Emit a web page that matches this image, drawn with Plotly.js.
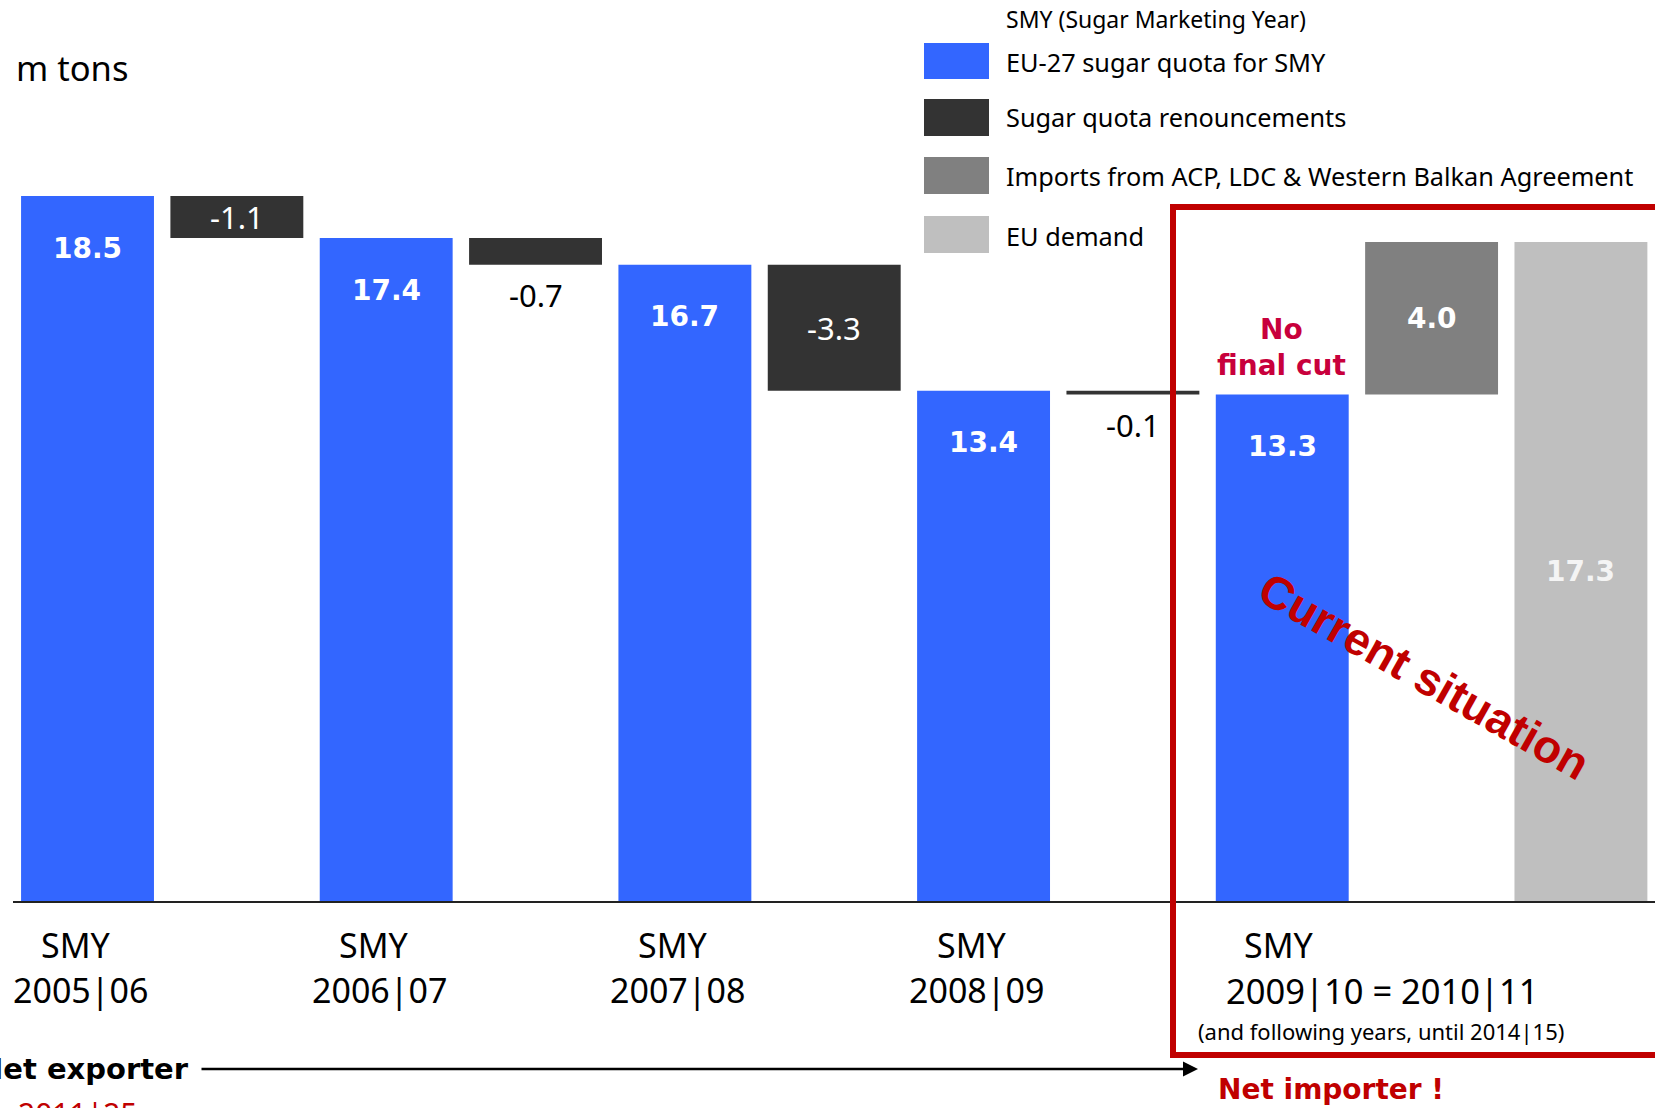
<!DOCTYPE html>
<html>
<head>
<meta charset="utf-8">
<script src="https://cdn.plot.ly/plotly-3.0.1.min.js"></script>
<style>html,body{margin:0;padding:0;background:#fff;}#chart{width:1655px;height:1108px;}</style>
</head>
<body>
<div id="chart"></div>
<script>
// ---- data ----
const periods = ['2005|06', '2006|07', '2007|08', '2008|09'];
const currentPeriod = '2009|10 = 2010|11';
const currentNote = '(and following years, until 2014|15)';
const quota = [18.5, 17.4, 16.7, 13.4, 13.3];          // EU-27 sugar quota for SMY
const renouncements = [-1.1, -0.7, -3.3, -0.1];        // Sugar quota renouncements
const imports = [4.0];                                  // Imports from ACP, LDC & Western Balkan
const demand = [17.3];                                  // EU demand
const legendNames = ['EU-27 sugar quota for SMY', 'Sugar quota renouncements',
  'Imports from ACP, LDC & Western Balkan Agreement', 'EU demand'];

// ---- styling ----
const W = 1655, H = 1108;
const C_BLUE = '#3366FF', C_DARK = '#333333', C_GRAY = '#808080', C_LIGHT = '#BFBFBF';
const RED = '#C00000', CRIMSON = '#C8003C';
const FONT = 'Noto Sans, DejaVu Sans, sans-serif';
const BFONT = 'DejaVu Sans, Verdana, sans-serif';
const AFONT = 'Liberation Sans, Arial, sans-serif';
const px = x => x / W;
const py = y => 1 - y / H;

const quotaX = quota.map((_, i) => 2 * i);
const renX = renouncements.map((_, i) => 2 * i + 1);
const renBase = renouncements.map((_, i) => quota[i]);
const impX = [2 * quota.length - 1];
const impBase = [quota[quota.length - 1]];
const demX = [2 * quota.length];
const BW = 0.89;

const traces = [
  {type: 'bar', x: quotaX, y: quota, base: quota.map(() => 0), width: BW,
   marker: {color: C_BLUE}, name: legendNames[0], showlegend: false, hoverinfo: 'skip'},
  {type: 'bar', x: renX, y: renouncements, base: renBase, width: BW,
   marker: {color: C_DARK}, name: legendNames[1], showlegend: false, hoverinfo: 'skip'},
  {type: 'bar', x: impX, y: imports, base: impBase, width: BW,
   marker: {color: C_GRAY}, name: legendNames[2], showlegend: false, hoverinfo: 'skip'},
  {type: 'bar', x: demX, y: demand, base: [0], width: BW,
   marker: {color: C_LIGHT}, name: legendNames[3], showlegend: false, hoverinfo: 'skip'}
];

const ann = [];
function A(o) { ann.push(Object.assign({showarrow: false, xanchor: 'center', yanchor: 'middle'}, o)); }

// value labels on quota bars
quota.forEach((v, i) => A({x: quotaX[i], y: v, xref: 'x', yref: 'y', yshift: -52,
  text: '<b>' + v.toFixed(1) + '</b>', font: {family: BFONT, size: 28, color: '#FFFFFF'}}));
// renouncement labels
renouncements.forEach((v, i) => {
  const big = Math.abs(v) >= 1;
  A({x: renX[i], y: big ? renBase[i] + v / 2 : renBase[i] + v, xref: 'x', yref: 'y',
    yshift: big ? 0 : -30, text: v.toFixed(1),
    font: {family: FONT, size: 31, color: big ? '#FFFFFF' : '#000000'}});
});
A({x: impX[0], y: impBase[0] + imports[0] / 2, xref: 'x', yref: 'y',
  text: '<b>' + imports[0].toFixed(1) + '</b>', font: {family: BFONT, size: 28, color: '#FFFFFF'}});
A({x: demX[0], y: demand[0] / 2, xref: 'x', yref: 'y',
  text: '<b>' + demand[0].toFixed(1) + '</b>', font: {family: BFONT, size: 28, color: '#F4F4F4'}});

// category labels
periods.forEach((p, i) => {
  A({x: 2 * i, y: py(945), xref: 'x', yref: 'paper', xshift: -12, text: 'SMY',
    font: {family: FONT, size: 34, color: '#000'}});
  A({x: 2 * i, y: py(990), xref: 'x', yref: 'paper', xshift: -7, text: p,
    font: {family: FONT, size: 34, color: '#000'}});
});
A({x: px(1279), y: py(945), xref: 'paper', yref: 'paper', text: 'SMY',
  font: {family: FONT, size: 34, color: '#000'}});
A({x: px(1382), y: py(990), xref: 'paper', yref: 'paper', text: currentPeriod,
  font: {family: FONT, size: 34.5, color: '#000'}});
A({x: px(1381), y: py(1031), xref: 'paper', yref: 'paper', text: currentNote,
  font: {family: FONT, size: 22, color: '#000'}});

// unit
A({x: px(14), y: py(68), xref: 'paper', yref: 'paper', text: 'm tons', xanchor: 'left',
  font: {family: FONT, size: 34.5, color: '#000'}});

// legend
A({x: px(1004), y: py(19), xref: 'paper', yref: 'paper', text: 'SMY (Sugar Marketing Year)',
  xanchor: 'left', font: {family: FONT, size: 23, color: '#000'}});
const legY = [62, 117, 176, 236];
legendNames.forEach((n, i) => A({x: px(1004), y: py(legY[i]), xref: 'paper', yref: 'paper',
  text: n, xanchor: 'left', font: {family: FONT, size: 25.3, color: '#000'}}));

// red texts
A({x: px(1281), y: py(347), xref: 'paper', yref: 'paper', text: '<b>No<br>final cut</b>',
  align: 'center', font: {family: BFONT, size: 28, color: CRIMSON}});
A({x: px(1424), y: py(676), xref: 'paper', yref: 'paper', text: '<b>Current situation</b>',
  textangle: 29.5, font: {family: AFONT, size: 46, color: RED}});
A({x: px(1216), y: py(1089), xref: 'paper', yref: 'paper', text: '<b>Net importer !</b>',
  xanchor: 'left', font: {family: BFONT, size: 28, color: RED}});
A({x: px(191), y: py(1069), xref: 'paper', yref: 'paper', text: '<b>Net exporter</b>',
  xanchor: 'right', font: {family: BFONT, size: 29, color: '#000'}});
A({x: px(16), y: py(1113), xref: 'paper', yref: 'paper', text: '2011|25',
  xanchor: 'left', font: {family: FONT, size: 30, color: RED}});
// arrow
ann.push({x: px(1198), y: py(1069), xref: 'paper', yref: 'paper', ax: px(200), ay: py(1069),
  axref: 'paper', ayref: 'paper', text: '', showarrow: true, arrowhead: 2, arrowsize: 1.2,
  arrowwidth: 2.5, arrowcolor: '#000'});

const legSwatch = [[43, 79, C_BLUE], [99, 136, C_DARK], [157, 194, C_GRAY], [216, 253, C_LIGHT]];
const shapes = legSwatch.map(s => ({type: 'rect', xref: 'paper', yref: 'paper',
  x0: px(924), x1: px(989), y0: py(s[1]), y1: py(s[0]), fillcolor: s[2], line: {width: 0}}));
shapes.push({type: 'line', xref: 'paper', yref: 'y', x0: px(13), x1: 1, y0: 0, y1: 0,
  line: {color: '#222', width: 2}});
shapes.push({type: 'rect', xref: 'paper', yref: 'paper', x0: px(1173), x1: px(1670),
  y0: py(1055), y1: py(207), line: {color: RED, width: 6}, fillcolor: 'rgba(0,0,0,0)', layer: 'above'});

const layout = {
  width: W, height: H, margin: {l: 0, r: 0, t: 0, b: 0, pad: 0},
  paper_bgcolor: '#fff', plot_bgcolor: '#fff', barmode: 'overlay', showlegend: false,
  xaxis: {range: [-0.586, 10.496], visible: false, fixedrange: true},
  yaxis: {range: [-5.40, 23.64], visible: false, fixedrange: true},
  annotations: ann, shapes: shapes
};
Plotly.newPlot('chart', traces, layout, {displayModeBar: false, staticPlot: true});
</script>
</body>
</html>
